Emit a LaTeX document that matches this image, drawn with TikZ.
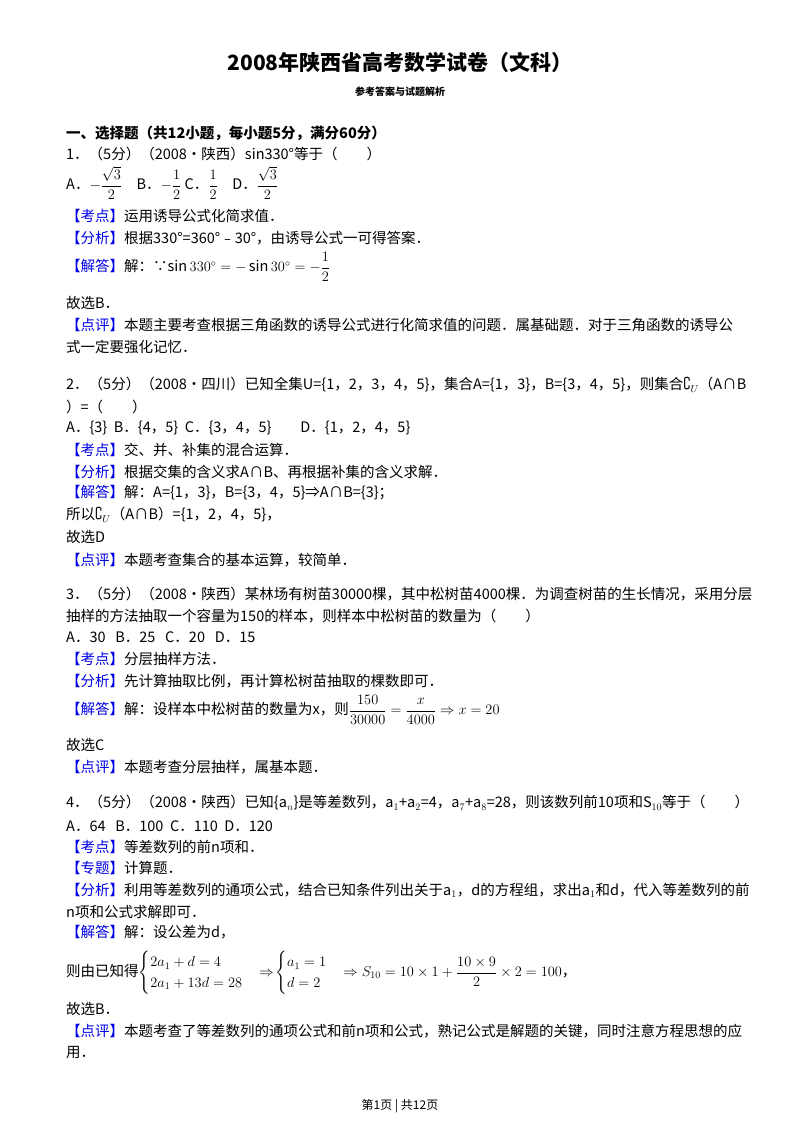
\documentclass[tikz,border=0pt]{standalone}
\usepackage{amsmath,amssymb}
\usepackage{fontspec}
\setmainfont{Noto Sans CJK SC}
\definecolor{kb}{RGB}{0,0,230}
\newcommand{\tg}[1]{\textcolor{kb}{【#1】}}
\begin{document}
\begin{tikzpicture}[x=1pt,y=-1pt,t/.style={anchor=west,inner sep=0pt,font=\fontsize{14.5}{17}\selectfont}]
\useasboundingbox (0,0) rectangle (800,1132);
\fill[white] (0,0) rectangle (800,1132);
\node[inner sep=0pt,font=\fontsize{21}{24}\selectfont\bfseries] (title) at (400,62) {2008年陕西省高考数学试卷（文科）};
\node[inner sep=0pt,font=\fontsize{10}{12}\selectfont\bfseries] (sub) at (400,92) {参考答案与试题解析};
\node[t,font=\fontsize{14.5}{17}\selectfont\bfseries] (s1) at (66,133) {一、选择题（共12小题，每小题5分，满分60分）};
\node[t] (a1) at (66,154) {1．（5分）（2008•陕西）sin330°等于（\quad\quad）};
\node[t] (a2) at (66,183) {A．$-\dfrac{\sqrt3}{2}$\quad B．$-\dfrac12$ C．$\dfrac12$\quad D．$\dfrac{\sqrt3}{2}$};
\node[t] (a3) at (66,216) {\tg{考点}运用诱导公式化简求值．};
\node[t] (a4) at (66,238) {\tg{分析}根据330°=360°﹣30°，由诱导公式一可得答案．};
\node[t] (a5) at (66,267) {\tg{解答}解：∵$\sin330^\circ=-\sin30^\circ=-\dfrac12$};
\node[t] (a6) at (66,303) {故选B．};
\node[t] (a7) at (66,325) {\tg{点评}本题主要考查根据三角函数的诱导公式进行化简求值的问题．属基础题．对于三角函数的诱导公};
\node[t] (a8) at (66,347) {式一定要强化记忆．};
\node[t] (b1) at (66,385) {2．（5分）（2008•四川）已知全集U=\{1，2，3，4，5\}，集合A=\{1，3\}，B=\{3，4，5\}，则集合$\complement_U$（A∩B};
\node[t] (b2) at (66,407) {）=（\quad\quad）};
\node[t] (b3) at (66,428) {A．\{3\}\ \ B．\{4，5\}\ \ C．\{3，4，5\}\qquad D．\{1，2，4，5\}};
\node[t] (b4) at (66,450) {\tg{考点}交、并、补集的混合运算．};
\node[t] (b5) at (66,472) {\tg{分析}根据交集的含义求A∩B、再根据补集的含义求解．};
\node[t] (b6) at (66,493) {\tg{解答}解：A=\{1，3\}，B=\{3，4，5\}⇒A∩B=\{3\}；};
\node[t] (b7) at (66,515) {所以$\complement_U$（A∩B）=\{1，2，4，5\}，};
\node[t] (b8) at (66,537) {故选D};
\node[t] (b9) at (66,560) {\tg{点评}本题考查集合的基本运算，较简单．};
\node[t] (c1) at (66,594) {3．（5分）（2008•陕西）某林场有树苗30000棵，其中松树苗4000棵．为调查树苗的生长情况，采用分层};
\node[t] (c2) at (66,616) {抽样的方法抽取一个容量为150的样本，则样本中松树苗的数量为（\quad\quad）};
\node[t] (c3) at (66,637) {A．30\ \ \ B．25\ \ \ C．20\ \ \ D．15};
\node[t] (c4) at (66,659) {\tg{考点}分层抽样方法．};
\node[t] (c5) at (66,681) {\tg{分析}先计算抽取比例，再计算松树苗抽取的棵数即可．};
\node[t] (c6) at (66,710) {\tg{解答}解：设样本中松树苗的数量为x，则$\dfrac{150}{30000}=\dfrac{x}{4000}\Rightarrow x=20$};
\node[t] (c7) at (66,745) {故选C};
\node[t] (c8) at (66,767) {\tg{点评}本题考查分层抽样，属基本题．};
\node[t] (d1) at (66,803) {4．（5分）（2008•陕西）已知\{a$_n$\}是等差数列，a$_1$+a$_2$=4，a$_7$+a$_8$=28，则该数列前10项和S$_{10}$等于（\quad\quad）};
\node[t] (d2) at (66,826) {A．64\ \ \ B．100\ \ C．110\ \ D．120};
\node[t] (d3) at (66,847) {\tg{考点}等差数列的前n项和．};
\node[t] (d4) at (66,868) {\tg{专题}计算题．};
\node[t] (d5) at (66,890) {\tg{分析}利用等差数列的通项公式，结合已知条件列出关于a$_1$，d的方程组，求出a$_1$和d，代入等差数列的前};
\node[t] (d6) at (66,912) {n项和公式求解即可．};
\node[t] (d7) at (66,932) {\tg{解答}解：设公差为d，};
\node[t] (d8) at (66,973) {则由已知得$\begin{cases}2a_1+d=4\\2a_1+13d=28\end{cases}\!\Rightarrow\!\begin{cases}a_1=1\\d=2\end{cases}\!\Rightarrow S_{10}=10\times1+\dfrac{10\times9}{2}\times2=100$，};
\node[t] (d9) at (66,1009) {故选B．};
\node[t] (d10) at (66,1031) {\tg{点评}本题考查了等差数列的通项公式和前n项和公式，熟记公式是解题的关键，同时注意方程思想的应};
\node[t] (d11) at (66,1053) {用．};
\node[inner sep=0pt,font=\fontsize{12}{14}\selectfont] (foot) at (400,1106) {第1页\ |\ 共12页};
\end{tikzpicture}
\end{document}
